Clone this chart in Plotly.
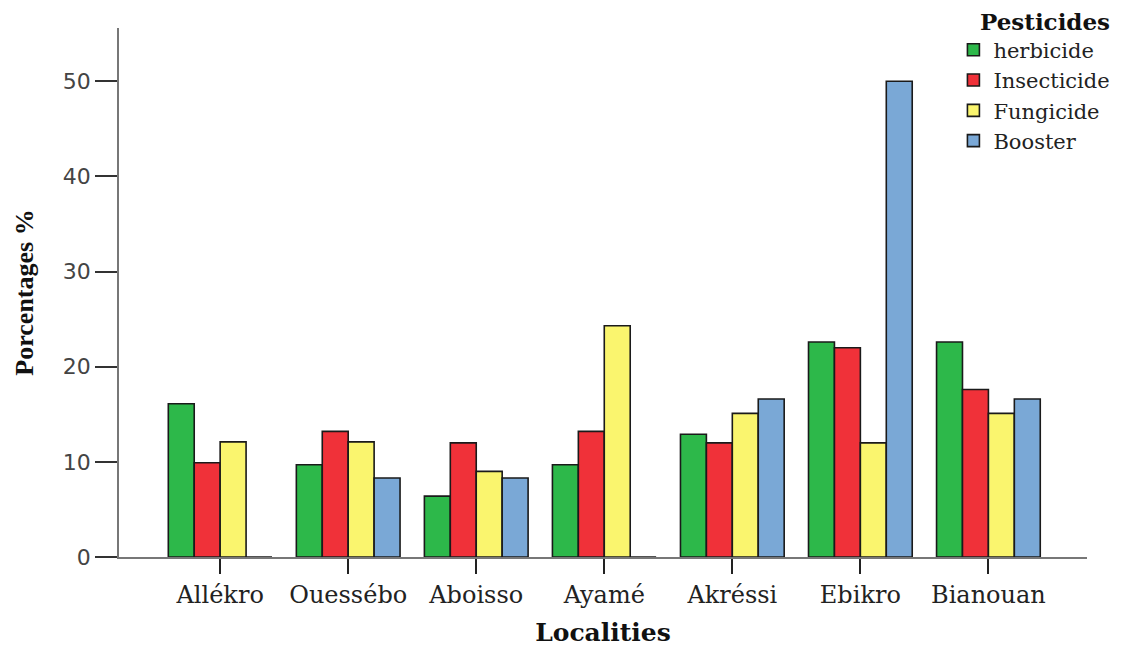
import plotly.graph_objects as go

localities = ["Allékro", "Ouessébo", "Aboisso", "Ayamé", "Akréssi", "Ebikro", "Bianouan"]
herbicide = [16.1, 9.7, 6.4, 9.7, 12.9, 22.6, 22.6]
insecticide = [9.9, 13.2, 12.0, 13.2, 12.0, 22.0, 17.6]
fungicide = [12.1, 12.1, 9.0, 24.3, 15.1, 12.0, 15.1]
booster = [0.0, 8.3, 8.3, 0.0, 16.6, 50.0, 16.6]

series = [
    ("herbicide", herbicide, "#2DB84A"),
    ("Insecticide", insecticide, "#F03139"),
    ("Fungicide", fungicide, "#FAF56E"),
    ("Booster", booster, "#7AA8D6"),
]

fig = go.Figure()
for name, vals, col in series:
    fig.add_trace(go.Bar(
        x=localities, y=vals, name=name,
        marker=dict(color=col, line=dict(color="#1a1a1a", width=1.6)),
    ))

fig.update_layout(
    width=1141, height=646,
    margin=dict(l=111, r=62, t=20, b=97, autoexpand=False),
    paper_bgcolor="white", plot_bgcolor="white",
    barmode="group", bargap=0.19, bargroupgap=0,
    font=dict(family="DejaVu Serif", color="#111"),
    legend=dict(
        x=0.862, y=0.997, xanchor="left", yanchor="top",
        font=dict(family="DejaVu Serif", size=21, color="#222"),
        bgcolor="rgba(0,0,0,0)", tracegroupgap=0,
    ),
    showlegend=True,
    annotations=[dict(
        text="<b>Pesticides</b>", xref="paper", yref="paper",
        x=0.9566, y=1.0378, xanchor="center", yanchor="top",
        showarrow=False, yshift=1, borderpad=0,
        font=dict(family="DejaVu Serif", size=23, color="#111"),
    )],
)
fig.update_xaxes(
    range=[-0.79, 6.77], automargin=False,
    showline=True, linecolor="#777", linewidth=1.5,
    ticks="outside", ticklen=15, tickcolor="#222", tickwidth=1.5,
    tickfont=dict(family="DejaVu Serif", size=24, color="#222"),
    title=dict(text="<b>Localities</b>", standoff=16,
               font=dict(family="DejaVu Serif", size=25, color="#111")),
    showgrid=False, zeroline=False,
)
fig.update_yaxes(
    range=[0, 55.6], tickvals=[0, 10, 20, 30, 40, 50], automargin=False,
    showline=True, linecolor="#777", linewidth=1.5,
    ticks="outside", ticklen=22, tickcolor="#333", tickwidth=1.5,
    tickfont=dict(family="DejaVu Sans", size=22, color="#444"),
    title=dict(text="<b>Porcentages %</b>", standoff=22,
               font=dict(family="Liberation Serif", size=26, color="#111")),
    showgrid=False, zeroline=False,
)

fig.write_html("out.html")
